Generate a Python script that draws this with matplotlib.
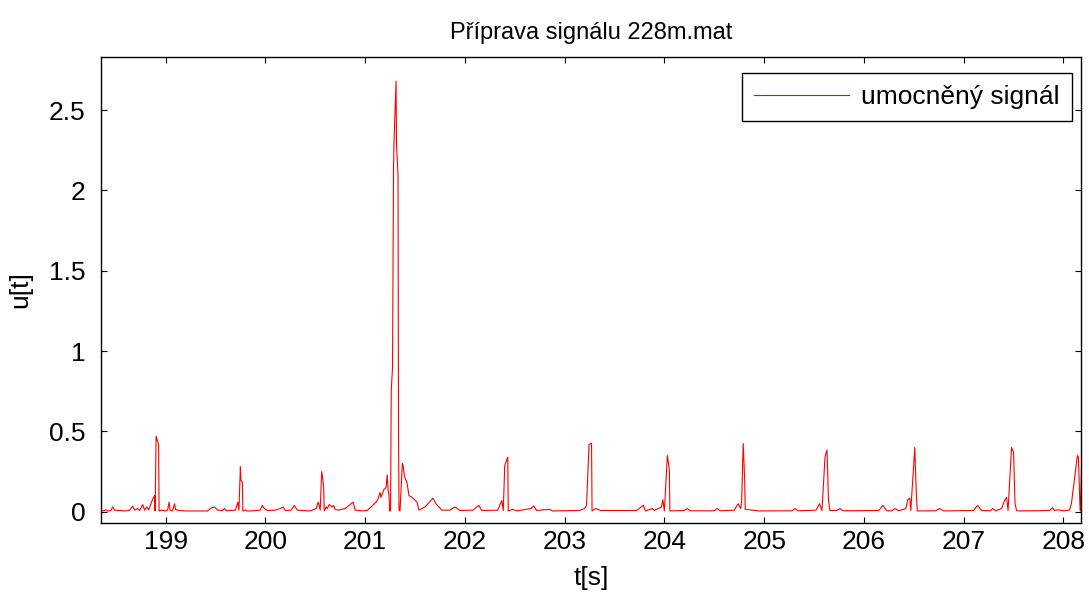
import numpy as np
import matplotlib
matplotlib.use('Agg')
import matplotlib.pyplot as plt

# body signalu (cas [s], hodnota)
signal_points = [
    (198.36, 0.010), (198.38, 0.005), (198.40, 0.012), (198.42, 0.004), (198.45, 0.008),
    (198.47, 0.030), (198.49, 0.010), (198.60, 0.005), (198.64, 0.010), (198.67, 0.035),
    (198.69, 0.010), (198.72, 0.020), (198.74, 0.008), (198.77, 0.045), (198.79, 0.010),
    (198.81, 0.030), (198.83, 0.012), (198.86, 0.060), (198.875, 0.085), (198.89, 0.100),
    (198.895, 0.005), (198.905, 0.470), (198.915, 0.450), (198.93, 0.420), (198.935, 0.005),
    (198.96, 0.010), (199.00, 0.005), (199.02, 0.010), (199.035, 0.060), (199.045, 0.010),
    (199.07, 0.005), (199.09, 0.050), (199.10, 0.015), (199.13, 0.008), (199.20, 0.005),
    (199.42, 0.005), (199.46, 0.025), (199.49, 0.030), (199.52, 0.010), (199.57, 0.008),
    (199.59, 0.020), (199.61, 0.006), (199.70, 0.010), (199.725, 0.060), (199.735, 0.010),
    (199.745, 0.200), (199.75, 0.280), (199.755, 0.200), (199.77, 0.180), (199.775, 0.005),
    (199.80, 0.012), (199.81, 0.005), (199.86, 0.005), (199.95, 0.010), (199.97, 0.040),
    (199.99, 0.020), (200.02, 0.008), (200.10, 0.010), (200.15, 0.020), (200.18, 0.030),
    (200.20, 0.008), (200.26, 0.010), (200.29, 0.040), (200.32, 0.010), (200.45, 0.005),
    (200.51, 0.020), (200.53, 0.060), (200.55, 0.010), (200.565, 0.250), (200.575, 0.210),
    (200.585, 0.150), (200.59, 0.005), (200.61, 0.030), (200.62, 0.020), (200.64, 0.045),
    (200.67, 0.030), (200.685, 0.040), (200.70, 0.015), (200.73, 0.010), (200.80, 0.020),
    (200.84, 0.040), (200.88, 0.060), (200.90, 0.010), (200.98, 0.005), (201.02, 0.008),
    (201.06, 0.030), (201.085, 0.045), (201.11, 0.060), (201.13, 0.080), (201.15, 0.120),
    (201.16, 0.090), (201.19, 0.140), (201.21, 0.150), (201.222, 0.230), (201.23, 0.140),
    (201.24, 0.100), (201.245, 0.005), (201.255, 0.005), (201.262, 0.750), (201.275, 0.900),
    (201.285, 2.150), (201.29, 2.300), (201.31, 2.680), (201.315, 2.280), (201.33, 2.100),
    (201.335, 0.500), (201.34, 0.010), (201.35, 0.005), (201.373, 0.300), (201.38, 0.290),
    (201.395, 0.220), (201.42, 0.180), (201.44, 0.100), (201.47, 0.090), (201.52, 0.060),
    (201.54, 0.010), (201.60, 0.030), (201.68, 0.085), (201.71, 0.050), (201.77, 0.010),
    (201.85, 0.010), (201.90, 0.030), (201.95, 0.008), (202.08, 0.010), (202.14, 0.040),
    (202.17, 0.008), (202.33, 0.010), (202.37, 0.070), (202.385, 0.008), (202.40, 0.290),
    (202.43, 0.340), (202.435, 0.005), (202.48, 0.015), (202.52, 0.005), (202.66, 0.020),
    (202.69, 0.035), (202.72, 0.008), (202.85, 0.015), (202.88, 0.005), (203.15, 0.008),
    (203.20, 0.020), (203.22, 0.040), (203.245, 0.420), (203.27, 0.425), (203.275, 0.005),
    (203.31, 0.020), (203.36, 0.008), (203.72, 0.008), (203.79, 0.040), (203.81, 0.005),
    (203.88, 0.020), (203.90, 0.008), (203.97, 0.030), (203.985, 0.075), (204.00, 0.005),
    (204.03, 0.350), (204.05, 0.260), (204.055, 0.005), (204.20, 0.008), (204.23, 0.020),
    (204.26, 0.006), (204.50, 0.006), (204.53, 0.020), (204.56, 0.006), (204.70, 0.010),
    (204.74, 0.050), (204.765, 0.020), (204.775, 0.070), (204.79, 0.425), (204.805, 0.200),
    (204.81, 0.015), (204.86, 0.012), (204.95, 0.005), (205.28, 0.006), (205.31, 0.020),
    (205.34, 0.006), (205.52, 0.010), (205.555, 0.050), (205.58, 0.008), (205.61, 0.340),
    (205.63, 0.385), (205.645, 0.070), (205.66, 0.008), (205.73, 0.008), (205.76, 0.020),
    (205.79, 0.006), (206.15, 0.008), (206.19, 0.040), (206.23, 0.006), (206.28, 0.006),
    (206.31, 0.020), (206.35, 0.006), (206.42, 0.020), (206.44, 0.075), (206.46, 0.085),
    (206.47, 0.008), (206.49, 0.200), (206.51, 0.400), (206.525, 0.120), (206.535, 0.005),
    (206.72, 0.006), (206.76, 0.020), (206.80, 0.005), (207.10, 0.008), (207.14, 0.040),
    (207.18, 0.008), (207.27, 0.006), (207.29, 0.020), (207.32, 0.006), (207.38, 0.020),
    (207.41, 0.070), (207.43, 0.090), (207.445, 0.008), (207.48, 0.400), (207.50, 0.370),
    (207.515, 0.050), (207.53, 0.008), (207.56, 0.005), (207.86, 0.008), (207.89, 0.025),
    (207.91, 0.008), (207.95, 0.012), (208.00, 0.006), (208.06, 0.010), (208.08, 0.050),
    (208.10, 0.150), (208.12, 0.250), (208.14, 0.350), (208.15, 0.340), (208.165, 0.050),
    (208.17, 0.005), (208.185, 0.360),
]
t_s = np.array([p[0] for p in signal_points])
u_t = np.array([p[1] for p in signal_points])

x_ticks = [199, 200, 201, 202, 203, 204, 205, 206, 207, 208]
y_ticks = [0, 0.5, 1, 1.5, 2, 2.5]
y_ticklabels = ['0', '0.5', '1', '1.5', '2', '2.5']

plt.rcParams['font.family'] = ['Liberation Sans', 'DejaVu Sans']

fig = plt.figure(figsize=(10.89, 5.95), dpi=100)
ax = fig.add_axes([0.0925, 0.121, 0.9005, 0.783])
ax.plot(t_s, u_t, color='red', linewidth=0.8, label='umocněný signál')

ax.set_xlim(198.35, 208.18)
ax.set_ylim(-0.07, 2.83)
ax.set_xticks(x_ticks)
ax.set_yticks(y_ticks)
ax.set_yticklabels(y_ticklabels)
ax.tick_params(direction='in', top=True, right=True, length=4, width=0.8,
               labelsize=19)
ax.tick_params(axis='y', pad=11)
ax.tick_params(axis='x', pad=5)
for s in ax.spines.values():
    s.set_linewidth(1.0)

ax.set_title('Příprava signálu 228m.mat', fontsize=17, pad=13)
ax.set_xlabel('t[s]', fontsize=19, labelpad=9)
ax.set_ylabel('u[t]', fontsize=19, labelpad=12)

leg = ax.legend(loc='upper right', bbox_to_anchor=(0.990, 0.966), fontsize=19,
                handlelength=3.6, fancybox=False, edgecolor='black', framealpha=1,
                borderaxespad=0, borderpad=0.45, handletextpad=0.45)
leg.get_frame().set_linewidth(1.0)

fig.savefig('out.png', dpi=100)
